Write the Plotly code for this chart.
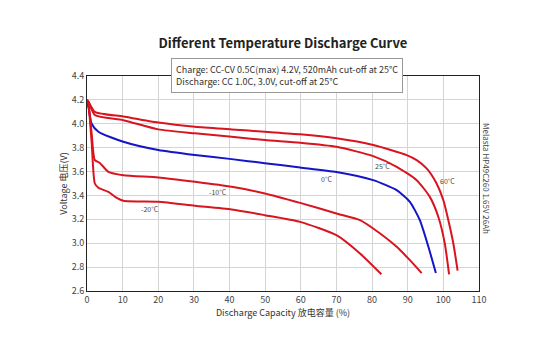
import plotly.graph_objects as go

# ---- data ----
cap_60 = [0, 0.4, 2.2, 10.2, 20, 30.3, 40.6, 49.9, 59.8, 70, 80.3, 89.7, 92.5, 95.3, 98.1, 100, 101.4, 102.8, 104.0]
v_60 = [4.2, 4.185, 4.10, 4.06, 4.01, 3.975, 3.953, 3.933, 3.912, 3.878, 3.822, 3.738, 3.696, 3.626, 3.50, 3.36, 3.193, 2.998, 2.77]

cap_25 = [0, 0.4, 2.2, 10.2, 20, 30.3, 40.6, 49.9, 59.8, 70, 80.3, 86.9, 92.5, 96.2, 98.6, 100.4, 101.6]
v_25 = [4.2, 4.185, 4.073, 4.03, 3.953, 3.92, 3.891, 3.864, 3.841, 3.807, 3.729, 3.64, 3.528, 3.388, 3.22, 2.998, 2.74]

cap_0 = [0, 0.4, 1.3, 3.2, 10.2, 20, 30.3, 40.6, 49.9, 59.8, 70, 80.3, 86.9, 90.6, 93.4, 95.8, 97.9]
v_0 = [4.18, 4.14, 4.0, 3.933, 3.849, 3.78, 3.738, 3.704, 3.670, 3.634, 3.596, 3.528, 3.444, 3.346, 3.193, 2.97, 2.75]

cap_m10 = [0, 0.4, 1.3, 2.2, 3.6, 6.0, 10.2, 20, 30.3, 40.6, 49.9, 59.8, 70, 76.6, 80.3, 86.9, 90.6, 93.9]
v_m10 = [4.2, 4.17, 3.92, 3.696, 3.672, 3.598, 3.57, 3.551, 3.514, 3.472, 3.417, 3.338, 3.249, 3.193, 3.123, 2.97, 2.858, 2.75]

cap_m20 = [0, 0.4, 1.3, 2.2, 3.2, 6.0, 7.9, 10.2, 20, 30.3, 40.6, 49.9, 59.8, 70, 76.6, 82.6]
v_m20 = [4.2, 4.16, 3.85, 3.50, 3.464, 3.43, 3.388, 3.355, 3.347, 3.314, 3.283, 3.235, 3.179, 3.067, 2.914, 2.74]

series_names = ["60°C", "25°C", "0°C", "-10°C", "-20°C"]
label_x = [101.2, 83.0, 67.3, 36.8, 17.7]
label_y = [3.52, 3.65, 3.54, 3.425, 3.29]

x_ticks = list(range(0, 111, 10))
y_ticks = [2.6, 2.8, 3.0, 3.2, 3.4, 3.6, 3.8, 4.0, 4.2, 4.4]

RED = "#d8141f"
BLUE = "#1414c8"
FONT = "Noto Sans CJK SC"

# page body has an 8px default margin; figure occupies 8..550 x 8..356 in the window
OFF = 8
W, H = 550 - OFF, 356 - OFF
PL, PR, PT, PB = 87, 479, 76, 291  # plot-area edges in window pixels

fig = go.Figure()
curves = [(cap_60, v_60, RED), (cap_25, v_25, RED), (cap_0, v_0, BLUE),
          (cap_m10, v_m10, RED), (cap_m20, v_m20, RED)]
for (xs, ys, col), name in zip(curves, series_names):
    fig.add_trace(go.Scatter(x=xs, y=ys, mode="lines", name=name,
                             line=dict(color=col, width=2, shape="spline", smoothing=0.6),
                             showlegend=False, hoverinfo="skip"))

for name, lx, ly in zip(series_names, label_x, label_y):
    fig.add_annotation(x=lx, y=ly, text=name, showarrow=False,
                       font=dict(family=FONT, size=7, color="#444"))

pw, ph = PR - PL, PB - PT
fig.add_annotation(xref="paper", yref="paper", x=(171 - PL) / pw, y=(PB - 58) / ph,
                   xanchor="left", yanchor="top", align="left", showarrow=False,
                   text="Charge: CC-CV 0.5C(max) 4.2V, 520mAh cut-off at 25°C<br>"
                        "Discharge: CC 1.0C, 3.0V, cut-off at 25°C",
                   font=dict(family=FONT, size=9, color="#333"),
                   bgcolor="white", bordercolor="#999", borderwidth=1, borderpad=4)

fig.add_annotation(xref="paper", yref="paper", x=(487 - PL) / pw, y=(PB - 178) / ph,
                   xanchor="center", yanchor="middle", textangle=90, showarrow=False,
                   text="Melasta HP49C260 1.65V 26Ah",
                   font=dict(family=FONT, size=8, color="#444"))

fig.update_layout(
    width=W, height=H,
    margin=dict(l=PL - OFF, r=550 - PR, t=PT - OFF, b=356 - PB),
    paper_bgcolor="white", plot_bgcolor="white",
    font=dict(family=FONT, color="#444"),
    title=dict(text="Different Temperature Discharge Curve", x=(283 - OFF) / W, xanchor="center",
               y=1 - (43 - OFF) / H, yanchor="middle",
               font=dict(family=FONT, size=13, color="#222", weight=600)),
)
fig.update_xaxes(range=[0, 110], tickvals=x_ticks, showgrid=True, gridcolor="#d4d4d4",
                 gridwidth=1, showline=True, linecolor="#222", linewidth=1, mirror=True,
                 zeroline=False, ticks="", tickfont=dict(family=FONT, size=9, color="#444"),
                 title=dict(text="Discharge Capacity 放电容量 (%)", standoff=4,
                            font=dict(family=FONT, size=9, color="#333")))
fig.update_yaxes(range=[2.6, 4.4], tickvals=y_ticks, tickformat=".1f", showgrid=True,
                 gridcolor="#d4d4d4", gridwidth=1, showline=True, linecolor="#222",
                 linewidth=1, mirror=True, zeroline=False, ticks="",
                 tickfont=dict(family=FONT, size=9, color="#444"),
                 title=dict(text="Voltage 电压(V)", standoff=2,
                            font=dict(family=FONT, size=9, color="#333")))

fig.write_html("out.html")
